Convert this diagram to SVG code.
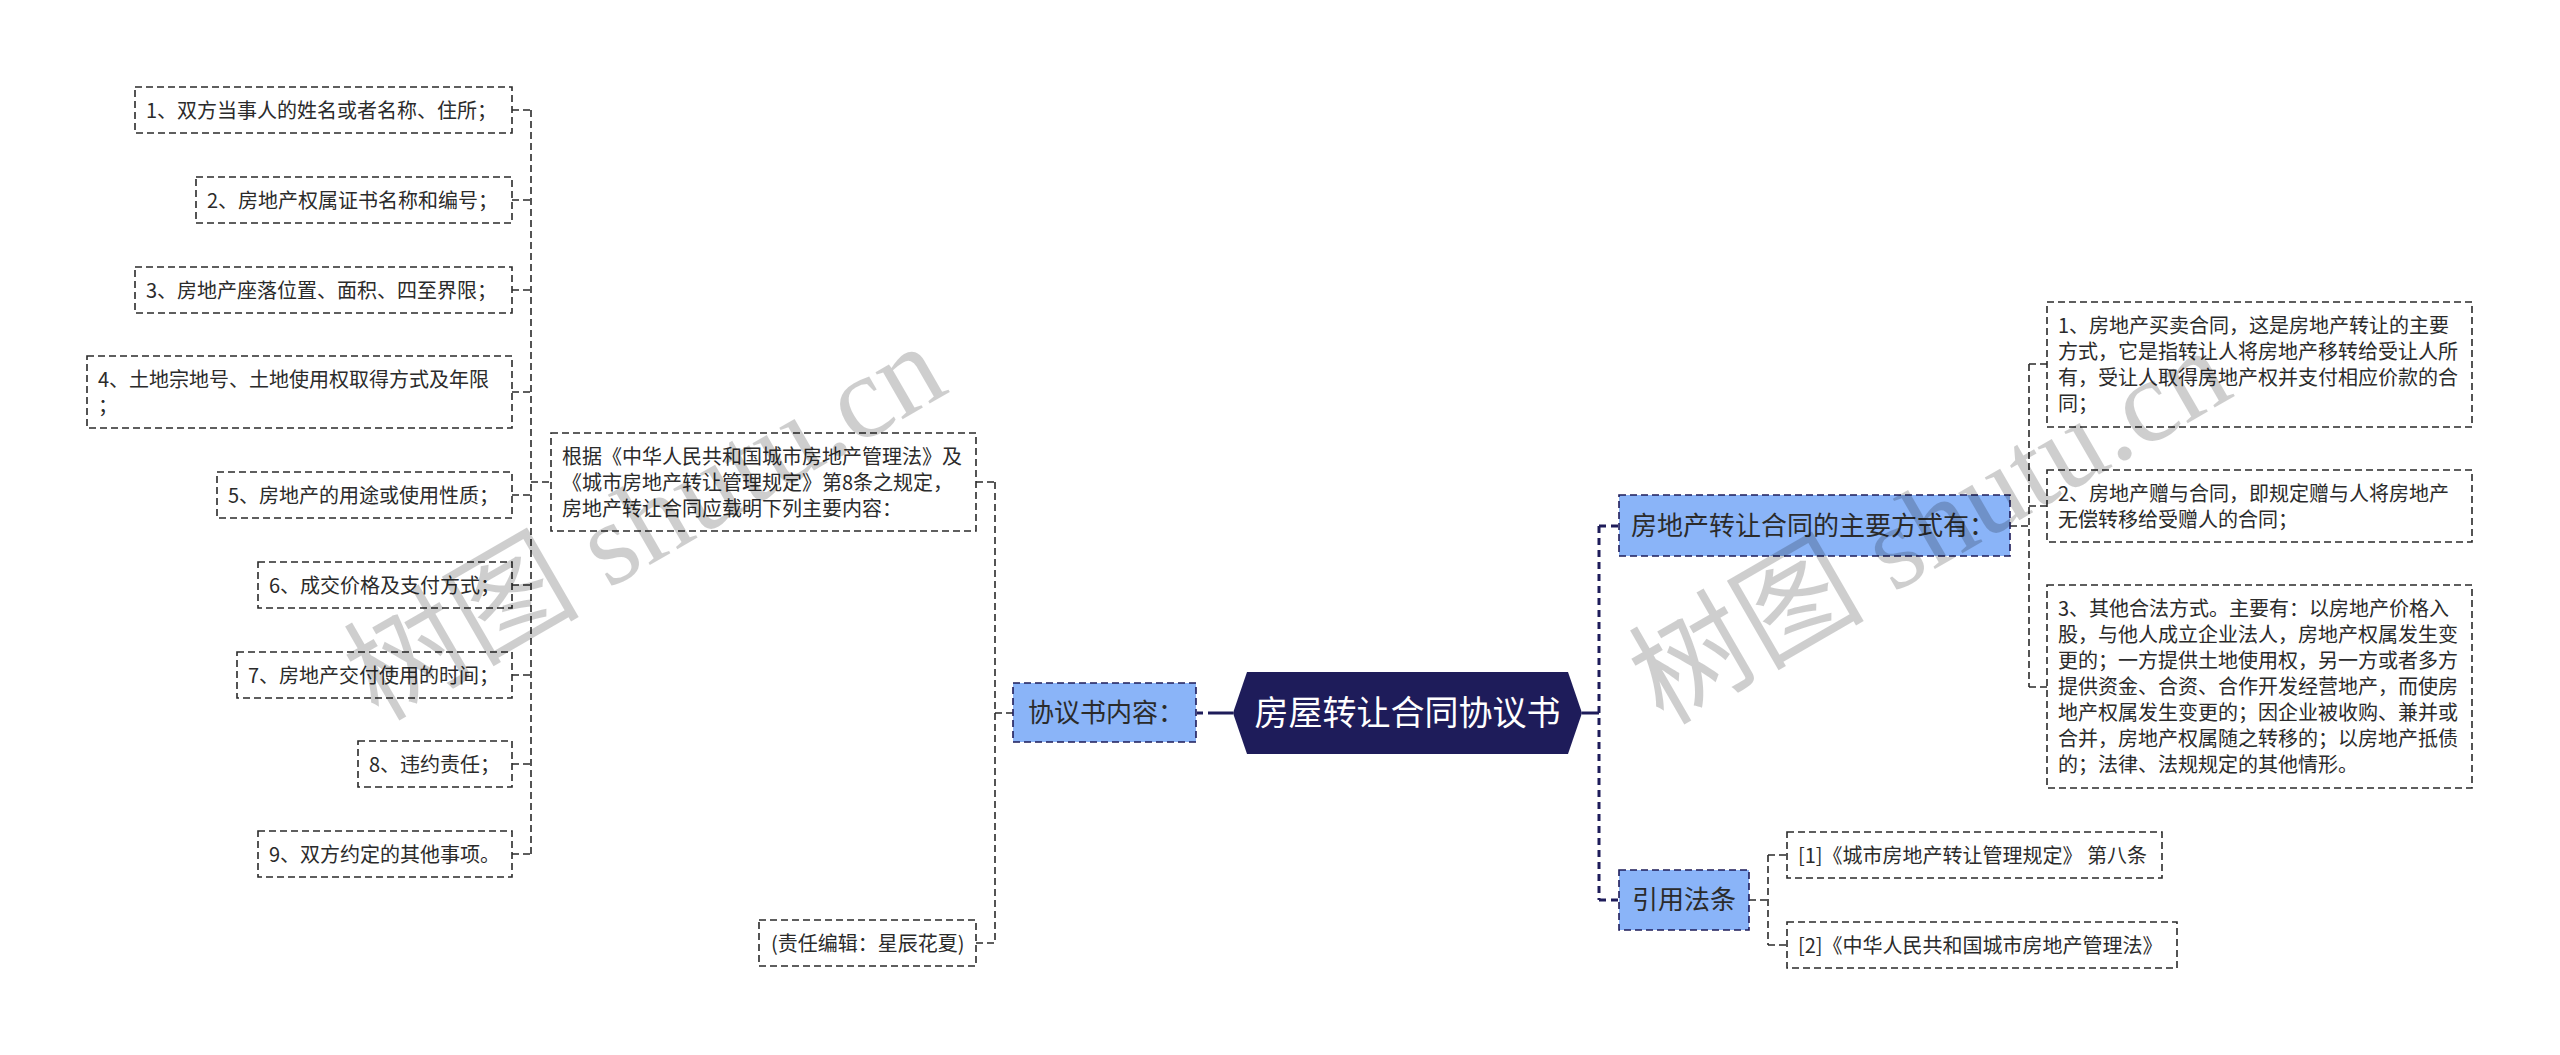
<svg xmlns="http://www.w3.org/2000/svg" width="2560" height="1055" viewBox="0 0 2560 1055">
<style>
.bg{fill:#ffffff}
.box{fill:#ffffff;stroke:#2a2a2a;stroke-width:1.6;stroke-dasharray:7 4}
.blue{fill:#8ab4f8;stroke:#1e1c5a;stroke-width:1.6;stroke-dasharray:7 4}
.root{fill:#1e1c5a}
.t{font-family:'Noto Sans CJK SC','Noto Sans',sans-serif;font-size:20px;fill:#2b2b2b}
.tb{font-family:'Noto Sans CJK SC','Noto Sans',sans-serif;font-size:26px;fill:#2b2b2b}
.tr{font-family:'Noto Sans CJK SC','Noto Sans',sans-serif;font-size:34px;fill:#ffffff}
.thin{fill:none;stroke:#2a2a2a;stroke-width:1.6;stroke-dasharray:7 4}
.thick{fill:none;stroke:#1e1c5a;stroke-width:3;stroke-dasharray:7 5}
.solid{fill:none;stroke:#1e1c5a;stroke-width:3}
.wm{font-family:'Liberation Serif','Noto Sans CJK SC',serif;font-size:118px;fill:#000000;opacity:0.19}
</style>
<rect class="bg" x="0" y="0" width="2560" height="1055"/>

<g id="connectors">
  <path class="thin" d="M531,110 V854"/>
  <path class="thin" d="M512,110 H531 M512,200 H531 M512,290 H531 M512,392 H531 M512,495 H531 M512,585 H531 M512,675 H531 M512,764 H531 M512,854 H531"/>
  <path class="thin" d="M531,482 H551"/>
  <path class="thin" d="M995,482 V943"/>
  <path class="thin" d="M976,482 H995 M976,943 H995 M995,713 H1013"/>
  <path class="solid" d="M1197,713 H1233" stroke-dasharray="6 5 60"/>
  <path class="solid" d="M1582,713 H1599"/>
  <path class="thick" d="M1599,526 V900"/>
  <path class="thick" d="M1599,526 H1619 M1599,900 H1619"/>
  <path class="thin" d="M2029,364 V687"/>
  <path class="thin" d="M2010,526 H2029 M2029,364 H2047 M2029,506 H2047 M2029,687 H2047"/>
  <path class="thin" d="M1768,855 V945"/>
  <path class="thin" d="M1749,900 H1768 M1768,855 H1787 M1768,945 H1787"/>
</g>

<g id="root">
  <polygon class="root" points="1233,713 1247,672 1568,672 1582,713 1568,754 1247,754"/>
  <text class="tr" x="1407.5" y="725" text-anchor="middle">房屋转让合同协议书</text>
</g>

<g id="n-xieyi">
  <rect class="blue" x="1013" y="683" width="183" height="59"/>
  <text class="tb" x="1028" y="722">协议书内容：</text>
</g>

<g id="n-genju">
  <rect class="box" x="551" y="433" width="425" height="98"/>
  <text class="t" x="562" y="464">根据《中华人民共和国城市房地产管理法》及</text>
  <text class="t" x="562" y="490">《城市房地产转让管理规定》第8条之规定，</text>
  <text class="t" x="562" y="516">房地产转让合同应载明下列主要内容：</text>
</g>

<g id="n-zeren">
  <rect class="box" x="759" y="920" width="217" height="46"/>
  <text class="t" x="771" y="951">(责任编辑：星辰花夏)</text>
</g>

<g id="n-l1"><rect class="box" x="135" y="87" width="377" height="46"/><text class="t" x="146" y="118">1、双方当事人的姓名或者名称、住所；</text></g>
<g id="n-l2"><rect class="box" x="196" y="177" width="316" height="46"/><text class="t" x="207" y="208">2、房地产权属证书名称和编号；</text></g>
<g id="n-l3"><rect class="box" x="135" y="267" width="377" height="46"/><text class="t" x="146" y="298">3、房地产座落位置、面积、四至界限；</text></g>
<g id="n-l4"><rect class="box" x="87" y="356" width="425" height="72"/><text class="t" x="98" y="387">4、土地宗地号、土地使用权取得方式及年限</text><text class="t" x="98" y="413">；</text></g>
<g id="n-l5"><rect class="box" x="217" y="472" width="295" height="46"/><text class="t" x="228" y="503">5、房地产的用途或使用性质；</text></g>
<g id="n-l6"><rect class="box" x="258" y="562" width="254" height="46"/><text class="t" x="269" y="593">6、成交价格及支付方式；</text></g>
<g id="n-l7"><rect class="box" x="237" y="652" width="275" height="46"/><text class="t" x="248" y="683">7、房地产交付使用的时间；</text></g>
<g id="n-l8"><rect class="box" x="358" y="741" width="154" height="46"/><text class="t" x="369" y="772">8、违约责任；</text></g>
<g id="n-l9"><rect class="box" x="258" y="831" width="254" height="46"/><text class="t" x="269" y="862">9、双方约定的其他事项。</text></g>

<g id="n-fangshi">
  <rect class="blue" x="1619" y="495" width="391" height="61"/>
  <text class="tb" x="1631" y="535">房地产转让合同的主要方式有：</text>
</g>

<g id="n-r1">
  <rect class="box" x="2047" y="302" width="425" height="125"/>
  <text class="t" x="2058" y="333">1、房地产买卖合同，这是房地产转让的主要</text>
  <text class="t" x="2058" y="359">方式，它是指转让人将房地产移转给受让人所</text>
  <text class="t" x="2058" y="385">有，受让人取得房地产权并支付相应价款的合</text>
  <text class="t" x="2058" y="411">同；</text>
</g>
<g id="n-r2">
  <rect class="box" x="2047" y="470" width="425" height="72"/>
  <text class="t" x="2058" y="501">2、房地产赠与合同，即规定赠与人将房地产</text>
  <text class="t" x="2058" y="527">无偿转移给受赠人的合同；</text>
</g>
<g id="n-r3">
  <rect class="box" x="2047" y="585" width="425" height="203"/>
  <text class="t" x="2058" y="616">3、其他合法方式。主要有：以房地产价格入</text>
  <text class="t" x="2058" y="642">股，与他人成立企业法人，房地产权属发生变</text>
  <text class="t" x="2058" y="668">更的；一方提供土地使用权，另一方或者多方</text>
  <text class="t" x="2058" y="694">提供资金、合资、合作开发经营地产，而使房</text>
  <text class="t" x="2058" y="720">地产权属发生变更的；因企业被收购、兼并或</text>
  <text class="t" x="2058" y="746">合并，房地产权属随之转移的；以房地产抵债</text>
  <text class="t" x="2058" y="772">的；法律、法规规定的其他情形。</text>
</g>

<g id="n-yinyong">
  <rect class="blue" x="1619" y="870" width="130" height="60"/>
  <text class="tb" x="1632" y="909">引用法条</text>
</g>
<g id="n-f1">
  <rect class="box" x="1787" y="832" width="375" height="46"/>
  <text class="t" x="1798" y="863">[1]《城市房地产转让管理规定》 第八条</text>
</g>
<g id="n-f2">
  <rect class="box" x="1787" y="922" width="390" height="46"/>
  <text class="t" x="1798" y="953">[2]《中华人民共和国城市房地产管理法》</text>
</g>

<g id="watermarks">
  <text class="wm" x="378" y="722" transform="rotate(-30 378 722)">树图 shutu.cn</text>
  <text class="wm" x="1663" y="726" transform="rotate(-30 1663 726)">树图 shutu.cn</text>
</g>
</svg>
